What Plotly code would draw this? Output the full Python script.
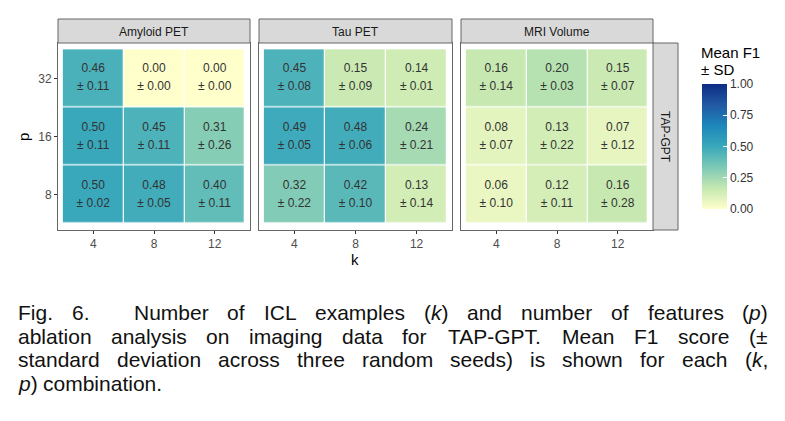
import plotly.graph_objects as go
import re

W, H = 785, 421

k_vals = [4, 8, 12]
p_vals = [8, 16, 32]
panels = ["Amyloid PET", "Tau PET", "MRI Volume"]
row_label = "TAP-GPT"

# rows: p = 8, 16, 32 ; columns: k = 4, 8, 12
amyloid_mean = [[0.50, 0.48, 0.40], [0.50, 0.45, 0.31], [0.46, 0.00, 0.00]]
amyloid_sd = [[0.02, 0.05, 0.11], [0.11, 0.11, 0.26], [0.11, 0.00, 0.00]]
tau_mean = [[0.32, 0.42, 0.13], [0.49, 0.48, 0.24], [0.45, 0.15, 0.14]]
tau_sd = [[0.22, 0.10, 0.14], [0.05, 0.06, 0.21], [0.08, 0.09, 0.01]]
mri_mean = [[0.06, 0.12, 0.16], [0.08, 0.13, 0.07], [0.16, 0.20, 0.15]]
mri_sd = [[0.10, 0.11, 0.28], [0.07, 0.22, 0.12], [0.14, 0.03, 0.07]]

means = [amyloid_mean, tau_mean, mri_mean]
sds = [amyloid_sd, tau_sd, mri_sd]

cbar_ticks = [0.0, 0.25, 0.5, 0.75, 1.0]

caption_lines = [
    ["Fig.", "6.", "Number", "of", "ICL", "examples", "(<i>k</i>)", "and", "number", "of", "features", "(<i>p</i>)"],
    ["ablation", "analysis", "on", "imaging", "data", "for", "TAP-GPT.", "Mean", "F1", "score", "(±"],
    ["standard", "deviation", "across", "three", "random", "seeds)", "is", "shown", "for", "each", "(<i>k</i>,"],
    ["<i>p</i>)", "combination."],
]

brewer = ["#ffffcc", "#c5e8b0", "#7cc9b6", "#3aa8bb", "#1c87ba", "#2259a3", "#0c2c84"]
colorscale = [[i / (len(brewer) - 1), c] for i, c in enumerate(brewer)]

FONT = "Liberation Sans, Arial, Helvetica, sans-serif"

def px_x(v):
    return v / W

def px_y(v):
    return 1 - v / H

def note(x, y, text, size, color, xanchor="center", yanchor="middle", angle=0):
    fig.add_annotation(x=px_x(x), y=px_y(y), xref="paper", yref="paper", text=text,
                       xanchor=xanchor, yanchor=yanchor, textangle=angle, showarrow=False,
                       borderpad=0, borderwidth=0,
                       font=dict(size=size, color=color, family=FONT))

panel_x = [(58, 250), (259, 452), (461, 653)]
panel_y = (43, 230)
strip_top = 19

fig = go.Figure()
xs = list(range(len(k_vals)))
ys = list(range(len(p_vals)))

for i, name in enumerate(panels):
    sfx = "" if i == 0 else str(i + 1)
    xa, ya = "x" + sfx, "y" + sfx
    fig.add_trace(go.Heatmap(
        x=xs, y=ys, z=means[i], coloraxis="coloraxis", xgap=1.2, ygap=1.2,
        xaxis=xa, yaxis=ya, hoverinfo="skip"))
    tx, ty1, ty2, t1, t2 = [], [], [], [], []
    for r in ys:
        for c in xs:
            tx.append(c)
            ty1.append(r + 0.155)
            ty2.append(r - 0.155)
            t1.append(f"{means[i][r][c]:.2f}")
            t2.append(f"± {sds[i][r][c]:.2f}")
    fig.add_trace(go.Scatter(x=tx, y=ty1, text=t1, mode="text", xaxis=xa, yaxis=ya,
                             textfont=dict(size=12, color="#333333", family=FONT),
                             hoverinfo="skip", showlegend=False))
    fig.add_trace(go.Scatter(x=tx, y=ty2, text=t2, mode="text", xaxis=xa, yaxis=ya,
                             textfont=dict(size=12, color="#333333", family=FONT),
                             hoverinfo="skip", showlegend=False))
    axcommon = dict(showline=True, mirror=True, linecolor="#666666", linewidth=1,
                    showgrid=False, zeroline=False, ticks="outside", ticklen=3,
                    tickcolor="#333333", tickfont=dict(size=12, color="#4d4d4d", family=FONT))
    fig.update_layout(**{
        ("xaxis" + sfx): dict(domain=[px_x(panel_x[i][0]), px_x(panel_x[i][1])],
                              range=[-0.58, 2.58], tickvals=xs, ticktext=[str(v) for v in k_vals],
                              anchor=ya, **axcommon),
        ("yaxis" + sfx): dict(domain=[px_y(panel_y[1]), px_y(panel_y[0])],
                              range=[-0.61, 2.61], tickvals=ys,
                              ticktext=[str(v) for v in p_vals] if i == 0 else [""] * 3,
                              anchor=xa, **axcommon),
    })
    if i > 0:
        fig.layout["yaxis" + sfx].ticks = ""
    # strip
    fig.add_shape(type="rect", xref="paper", yref="paper",
                  x0=px_x(panel_x[i][0]), x1=px_x(panel_x[i][1]),
                  y0=px_y(panel_y[0]), y1=px_y(strip_top),
                  fillcolor="#d9d9d9", line=dict(color="#666666", width=1))
    note((panel_x[i][0] + panel_x[i][1]) / 2, (strip_top + panel_y[0]) / 2 + 0.5, name, 12, "#1a1a1a")

# right strip
fig.add_shape(type="rect", xref="paper", yref="paper",
              x0=px_x(653), x1=px_x(678), y0=px_y(panel_y[1]), y1=px_y(panel_y[0]),
              fillcolor="#d9d9d9", line=dict(color="#666666", width=1))
note(665.5, (panel_y[0] + panel_y[1]) / 2, row_label, 12, "#1a1a1a", angle=90)

# axis titles
note(23, 137, "p", 15, "#000000", angle=-90)
note(355, 259, "k", 15, "#000000")

# colorbar
fig.update_layout(coloraxis=dict(
    colorscale=colorscale, cmin=0, cmax=1,
    colorbar=dict(x=px_x(702), xanchor="left", y=px_y(84), yanchor="top",
                  len=125, lenmode="pixels", thickness=25, thicknessmode="pixels",
                  xpad=0, ypad=0, outlinewidth=0, tickvals=cbar_ticks,
                  ticktext=[f"{v:.2f}" for v in cbar_ticks], ticks="inside", ticklen=4,
                  tickcolor="white", tickfont=dict(size=12, color="#333333", family=FONT),
                  title=dict(text=""))))
note(701, 53, "Mean F1", 15, "#000000", xanchor="left")
note(701, 69.5, "± SD", 15, "#000000", xanchor="left")

# caption, justified using Arial metrics
AW = dict(zip("abcdefghijklmnopqrstuvwxyz",
              [556, 556, 500, 556, 556, 278, 556, 556, 222, 222, 500, 222, 833, 556, 556, 556, 556, 333, 500, 278, 556, 500, 722, 500, 500, 500]))
AW.update(dict(zip("ABCDEFGHIJKLMNOPQRSTUVWXYZ",
                   [667, 667, 722, 722, 667, 611, 778, 722, 278, 500, 667, 556, 833, 722, 778, 667, 778, 722, 667, 611, 722, 667, 944, 667, 667, 611])))
AW.update({d: 556 for d in "0123456789"})
AW.update({".": 278, ",": 278, "(": 333, ")": 333, "-": 333, "±": 584, " ": 278})

CAP_SIZE = 21
def wwidth(s):
    s = re.sub(r"<[^>]+>", "", s)
    return sum(AW.get(ch, 556) for ch in s) * CAP_SIZE / 1000

cap_left, cap_right = 18, 768
cap_y = [312.5, 336, 359.5, 383]
for li, words in enumerate(caption_lines):
    widths = [wwidth(w) for w in words]
    extra = [0] * len(words)
    if li == 0:
        extra[2] = 26  # wide gap after "Fig. 6."
    last = li == len(caption_lines) - 1
    if last:
        gap = AW[" "] * CAP_SIZE / 1000
    else:
        gap = (cap_right - cap_left - sum(widths) - sum(extra)) / (len(words) - 1)
    xpos = cap_left
    for wi, w in enumerate(words):
        xpos += extra[wi]
        if wi == 0:
            ax, anc = xpos, "left"
        elif wi == len(words) - 1 and not last:
            ax, anc = cap_right, "right"
        else:
            ax, anc = xpos + widths[wi] / 2, "center"
        note(ax, cap_y[li], w, CAP_SIZE, "#111111", xanchor=anc)
        xpos += widths[wi] + gap

fig.update_layout(width=W, height=H, margin=dict(l=0, r=0, t=0, b=0),
                  paper_bgcolor="white", plot_bgcolor="white", showlegend=False)

fig.write_html("out.html")
